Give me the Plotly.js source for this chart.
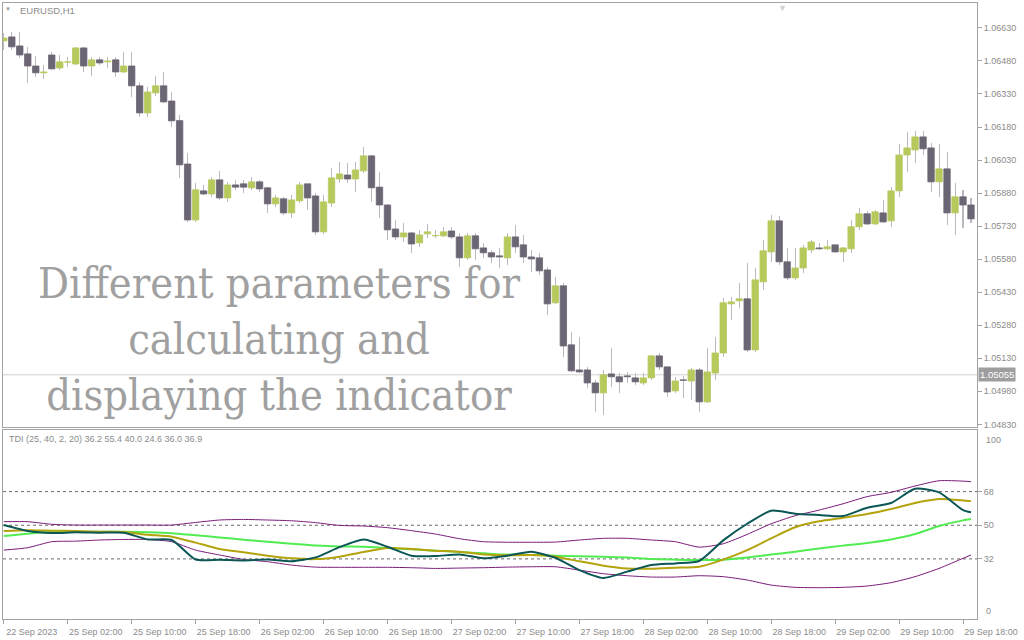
<!DOCTYPE html>
<html>
<head>
<meta charset="utf-8">
<script src="https://cdn.plot.ly/plotly-3.0.1.min.js"></script>
<style>html,body{margin:0;padding:0;background:#fff;}#chart{width:1024px;height:640px;}</style>
</head>
<body>
<div id="chart"></div>
<script>
// ---------- DATA ----------
const symbolLabel = 'EURUSD,H1';
const tdiLabel = 'TDI (25, 40, 2, 20) 36.2 55.4 40.0 24.6 36.0 36.9';
const overlayLines = ['Different parameters for', 'calculating and', 'displaying the indicator'];
const currentPrice = 1.05055;

const opens = [
1.06571,1.06589,1.06548,1.06512,1.06457,1.06426,1.06507,1.06448,1.06474,1.06466,
1.06539,1.06457,1.06485,1.06476,1.06485,1.06430,1.06457,1.06367,1.06244,1.06335,
1.06367,1.06298,1.06209,1.06012,1.05758,1.05890,1.05876,1.05940,1.05858,1.05917,
1.05922,1.05904,1.05931,1.05904,1.05831,1.05854,1.05790,1.05845,1.05922,1.05867,
1.05704,1.05835,1.05944,1.05962,1.05944,1.05981,1.06049,1.05907,1.05826,1.05717,
1.05681,1.05699,1.05654,1.05695,1.05686,1.05686,1.05708,1.05681,1.05586,1.05686,
1.05631,1.05609,1.05595,1.05586,1.05681,1.05645,1.05590,1.05586,1.05531,1.05382,
1.05459,1.05191,1.05077,1.05077,1.05018,1.04973,1.05059,1.05046,1.05050,1.05041,
1.05018,1.05041,1.05141,1.05091,1.04982,1.05032,1.05027,1.05077,1.04932,1.05063,
1.05154,1.05377,1.05391,1.05400,1.05168,1.05477,1.05613,1.05754,1.05568,1.05495,
1.05540,1.05622,1.05631,1.05627,1.05645,1.05613,1.05627,1.05727,1.05786,1.05740,
1.05790,1.05754,1.05890,1.06053,1.06076,1.06135,1.06085,1.05931,1.05990,1.05790,
1.05863,1.05826];
const highs = [
1.06607,1.06612,1.06612,1.06544,1.06503,1.06462,1.06521,1.06507,1.06498,1.06544,
1.06541,1.06498,1.06498,1.06498,1.06498,1.06521,1.06521,1.06385,1.06362,1.06412,
1.06430,1.06339,1.06235,1.06062,1.05926,1.05917,1.05953,1.05981,1.05931,1.05940,
1.05940,1.05953,1.05940,1.05907,1.05872,1.05863,1.05872,1.05931,1.05922,1.05881,
1.05872,1.05994,1.06022,1.06017,1.06022,1.06090,1.06053,1.05976,1.05831,1.05758,
1.05745,1.05704,1.05713,1.05740,1.05713,1.05727,1.05727,1.05699,1.05699,1.05699,
1.05654,1.05622,1.05631,1.05699,1.05736,1.05690,1.05622,1.05609,1.05545,1.05499,
1.05472,1.05250,1.05227,1.05091,1.05032,1.05077,1.05177,1.05063,1.05068,1.05063,
1.05063,1.05145,1.05154,1.05091,1.05046,1.05050,1.05086,1.05086,1.05177,1.05227,
1.05404,1.05409,1.05472,1.05563,1.05540,1.05667,1.05781,1.05776,1.05631,1.05631,
1.05645,1.05667,1.05654,1.05667,1.05645,1.05636,1.05758,1.05813,1.05799,1.05804,
1.05849,1.05907,1.06103,1.06158,1.06162,1.06162,1.06108,1.06103,1.06067,1.05926,
1.05895,1.05858];
const lows = [
1.06530,1.06530,1.06494,1.06380,1.06407,1.06398,1.06440,1.06439,1.06453,1.06462,
1.06430,1.06412,1.06462,1.06448,1.06407,1.06426,1.06317,1.06226,1.06226,1.06321,
1.06289,1.06180,1.05949,1.05749,1.05749,1.05872,1.05863,1.05849,1.05840,1.05895,
1.05881,1.05895,1.05885,1.05790,1.05817,1.05781,1.05767,1.05835,1.05804,1.05690,
1.05695,1.05817,1.05926,1.05926,1.05885,1.05971,1.05840,1.05767,1.05667,1.05667,
1.05658,1.05609,1.05636,1.05677,1.05677,1.05681,1.05672,1.05545,1.05577,1.05577,
1.05586,1.05563,1.05540,1.05554,1.05609,1.05563,1.05522,1.05509,1.05327,1.05377,
1.05136,1.05068,1.05063,1.04995,1.04887,1.04873,1.05000,1.04973,1.05018,1.05009,
1.05009,1.05032,1.05077,1.04955,1.04973,1.04950,1.04941,1.04887,1.04928,1.05032,
1.05136,1.05304,1.05359,1.05159,1.05159,1.05441,1.05568,1.05554,1.05486,1.05486,
1.05518,1.05609,1.05622,1.05622,1.05609,1.05568,1.05609,1.05713,1.05736,1.05736,
1.05745,1.05727,1.05863,1.05976,1.06017,1.06053,1.05885,1.05863,1.05736,1.05690,
1.05722,1.05745];
const closes = [
1.06584,1.06544,1.06507,1.06457,1.06426,1.06430,1.06444,1.06476,1.06476,1.06539,
1.06457,1.06485,1.06471,1.06480,1.06430,1.06457,1.06367,1.06244,1.06339,1.06367,
1.06294,1.06208,1.06008,1.05758,1.05895,1.05876,1.05940,1.05858,1.05917,1.05907,
1.05907,1.05931,1.05899,1.05831,1.05858,1.05790,1.05849,1.05917,1.05858,1.05704,
1.05840,1.05949,1.05967,1.05944,1.05985,1.06049,1.05904,1.05826,1.05713,1.05681,
1.05699,1.05649,1.05690,1.05704,1.05688,1.05704,1.05681,1.05586,1.05686,1.05627,
1.05609,1.05590,1.05590,1.05681,1.05636,1.05590,1.05581,1.05527,1.05377,1.05459,
1.05186,1.05073,1.05068,1.05018,1.04973,1.05055,1.05046,1.05023,1.05046,1.05023,
1.05041,1.05141,1.05091,1.04977,1.05027,1.05030,1.05077,1.04932,1.05068,1.05154,
1.05382,1.05386,1.05400,1.05168,1.05486,1.05618,1.05754,1.05568,1.05495,1.05540,
1.05631,1.05658,1.05627,1.05636,1.05613,1.05631,1.05727,1.05786,1.05740,1.05795,
1.05749,1.05890,1.06053,1.06085,1.06135,1.06081,1.05931,1.05990,1.05790,1.05863,
1.05826,1.05763];

const priceTicks = [1.04830,1.04980,1.05130,1.05280,1.05430,1.05580,1.05730,1.05880,1.06030,1.06180,1.06330,1.06480,1.06630];
const timeTickIdx = [0,8,16,24,32,40,48,56,64,72,80,88,96,104,112,120];
const timeLabels = ['22 Sep 2023','25 Sep 02:00','25 Sep 10:00','25 Sep 18:00','26 Sep 02:00','26 Sep 10:00','26 Sep 18:00','27 Sep 02:00','27 Sep 10:00','27 Sep 18:00','28 Sep 02:00','28 Sep 10:00','28 Sep 18:00','29 Sep 02:00','29 Sep 10:00','29 Sep 18:00'];

// TDI values read at these bar indices
const tdiIdx = [0,3,6,9,12,15,18,21,24,27,30,33,36,39,42,45,48,51,54,57,60,63,66,69,72,75,78,81,84,87,90,93,96,99,102,105,108,111,114,117,120,121];
const tdiUpper = [51.9,51.9,50.5,50.1,50.1,50.1,50.1,50.1,51.5,52.8,53.1,52.8,52.4,51.4,49.9,49.6,48.7,47.1,45.3,42.8,41.2,40.9,40.9,41.0,42.1,43.0,43.0,42.1,41.2,38.3,40.1,45.1,50.8,55.1,58.1,61.5,65.3,67.6,71.0,73.8,73.6,73.3];
const tdiLower = [36.7,38.0,41.2,41.5,42.1,42.4,42.4,41.2,36.7,34.1,31.7,30.5,28.7,27.6,27.5,27.5,27.5,27.3,26.9,27.1,27.3,27.6,27.8,27.8,26.0,24.1,23.0,22.3,22.3,23.0,22.5,20.7,18.0,16.8,16.6,16.8,17.5,19.3,22.5,26.9,32.3,34.1];
const tdiRsi = [50.1,46.9,45.8,46.2,46.0,46.0,42.4,42.1,31.7,31.6,31.2,31.7,30.7,32.8,38.3,42.4,38.5,33.7,33.5,34.4,32.3,33.7,35.8,32.6,26.0,21.8,25.2,28.7,29.6,30.9,41.9,50.8,57.8,56.2,55.5,54.9,59.4,61.9,69.5,67.6,58.1,56.9];
const tdiSignal = [46.9,47.3,47.1,46.9,46.5,46.4,44.9,43.9,40.7,37.3,35.5,33.7,32.3,31.9,33.2,35.7,37.8,37.3,36.4,35.8,34.4,33.9,34.1,33.2,30.7,28.4,26.9,26.8,27.3,27.8,31.6,36.7,43.0,48.9,52.1,54.0,56.0,58.7,61.9,64.0,63.3,62.9];
const tdiBase = [44.2,45.5,46.4,46.5,46.5,46.5,46.2,45.7,44.6,43.5,42.3,41.2,40.1,39.2,38.7,38.5,37.8,37.1,36.4,35.7,35.0,34.3,34.1,33.7,33.4,33.2,32.8,31.9,31.6,31.4,31.6,32.8,34.3,35.8,37.6,39.1,40.5,42.4,45.3,49.6,52.6,53.3];
const tdiLevels = [32, 50, 68];
const tdiEdgeTicks = [{text:'100', v:100}, {text:'0', v:0}];

// ---------- STYLE ----------
const C_UP = '#b6c95c', C_DN = '#6c6573', C_WICK = '#bcb8c2';
const C_AXIS = '#a3a3a3', C_TXT = '#8c8c8c';
const FONT = 'Liberation Sans, Arial, sans-serif';

const idx = opens.map((_, i) => i);
const bodyColors = opens.map((o, i) => closes[i] >= o ? C_UP : C_DN);

function tdiLine(y, color, width) {
  return { type:'scatter', mode:'lines', x:tdiIdx, y:y, xaxis:'x2', yaxis:'y2',
           line:{color:color, width:width, shape:'spline', smoothing:0.6} };
}

const traces = [
  { type:'bar', x:idx, base:lows, y:highs.map((h,i)=>h-lows[i]), width:0.13,
    marker:{color:C_WICK, line:{width:0}}, xaxis:'x', yaxis:'y', hoverinfo:'skip' },
  { type:'bar', x:idx, base:opens.map((o,i)=>Math.min(o,closes[i])),
    y:opens.map((o,i)=>Math.abs(closes[i]-o)), width:0.8,
    marker:{color:bodyColors, line:{color:bodyColors, width:0.8}}, xaxis:'x', yaxis:'y', hoverinfo:'skip' },
  tdiLine(tdiUpper, '#7a1a7a', 1),
  tdiLine(tdiLower, '#7a1a7a', 1),
  tdiLine(tdiBase, '#52ec52', 2),
  tdiLine(tdiSignal, '#b3a30d', 2),
  tdiLine(tdiRsi, '#0c5656', 2)
];

const xDomain = [3/1024, 977/1024];
const xRange = [-0.1, 121.75];

const shapes = [
  { type:'line', xref:'x domain', x0:0, x1:1, yref:'y', y0:currentPrice, y1:currentPrice,
    line:{color:'#cfcfcf', width:1}, layer:'below' }
].concat(tdiLevels.map(v => ({
  type:'line', xref:'x2 domain', x0:0, x1:1, yref:'y2', y0:v, y1:v,
  line:{color:'#6a6a6a', width:1, dash:'3px,3px'}, layer:'below'
})));

const annotations = [
  { xref:'paper', yref:'paper', x:8/1024, y:1-9/640, text:'▼', showarrow:false,
    xanchor:'center', yanchor:'middle', font:{family:FONT, size:6, color:'#9a9a9a'} },
  { xref:'paper', yref:'paper', x:18/1024, y:1-10/640, text:symbolLabel, showarrow:false,
    xanchor:'left', yanchor:'middle', font:{family:FONT, size:9.5, color:C_TXT} },
  { xref:'paper', yref:'paper', x:782/1024, y:1-1/640, text:'▼', showarrow:false,
    xanchor:'center', yanchor:'top', font:{family:FONT, size:9, color:'#d2d2d2'} },
  { xref:'paper', yref:'paper', x:7/1024, y:1-439/640, text:tdiLabel, showarrow:false,
    xanchor:'left', yanchor:'middle', font:{family:FONT, size:9, color:C_TXT} },
  { xref:'paper', yref:'y', x:978/1024, y:currentPrice, text:currentPrice.toFixed(5), showarrow:false,
    xanchor:'left', yanchor:'middle', bgcolor:'#9e9e9e', borderpad:1,
    font:{family:FONT, size:9.5, color:'#ffffff'} },
  { xref:'paper', yref:'paper', x:278.5/1024, y:1-339/640, text:overlayLines.join('<br>'), showarrow:false,
    xanchor:'center', yanchor:'middle', align:'center',
    font:{family:'DejaVu Serif Condensed, DejaVu Serif, serif', size:43, color:'#a0a0a0'} }
].concat(tdiEdgeTicks.map(t => ({
  xref:'paper', yref:'y2', x:984/1024, y:t.v, text:t.text, showarrow:false,
  xanchor:'left', yanchor: t.v > 50 ? 'top' : 'bottom', yshift: t.v > 50 ? -1 : 1,
  font:{family:FONT, size:9, color:C_TXT}
})));

const axisCommon = { showgrid:false, zeroline:false, showline:true, mirror:true, linecolor:C_AXIS, linewidth:1, fixedrange:true };

const layout = {
  width:1024, height:640, margin:{l:0, r:0, t:0, b:0},
  paper_bgcolor:'#ffffff', plot_bgcolor:'#ffffff', showlegend:false,
  barmode:'overlay', bargap:0,
  font:{family:FONT, size:9, color:C_TXT},
  xaxis: Object.assign({}, axisCommon, { domain:xDomain, range:xRange, anchor:'y',
    showticklabels:false, ticks:'' }),
  yaxis: Object.assign({}, axisCommon, { domain:[1-427/640, 1-3/640], range:[1.04818, 1.06743],
    anchor:'x', side:'right', tickvals:priceTicks, ticktext:priceTicks.map(v=>v.toFixed(5)),
    ticks:'outside', ticklen:4, tickcolor:C_AXIS, tickfont:{family:FONT, size:9, color:C_TXT} }),
  xaxis2: Object.assign({}, axisCommon, { domain:xDomain, range:xRange, anchor:'y2',
    tickvals:timeTickIdx, ticktext:timeLabels, ticks:'outside', ticklen:4, tickcolor:C_AXIS,
    ticklabelshift:28, tickangle:0, tickfont:{family:FONT, size:9, color:C_TXT} }),
  yaxis2: Object.assign({}, axisCommon, { domain:[1-619/640, 1-430/640], range:[-0.14, 100.94],
    anchor:'x2', side:'right', tickvals:tdiLevels, ticks:'outside', ticklen:4, tickcolor:C_AXIS,
    tickfont:{family:FONT, size:9, color:C_TXT} }),
  shapes: shapes,
  annotations: annotations
};

Plotly.newPlot('chart', traces, layout, {displayModeBar:false, staticPlot:true});
</script>
</body>
</html>
